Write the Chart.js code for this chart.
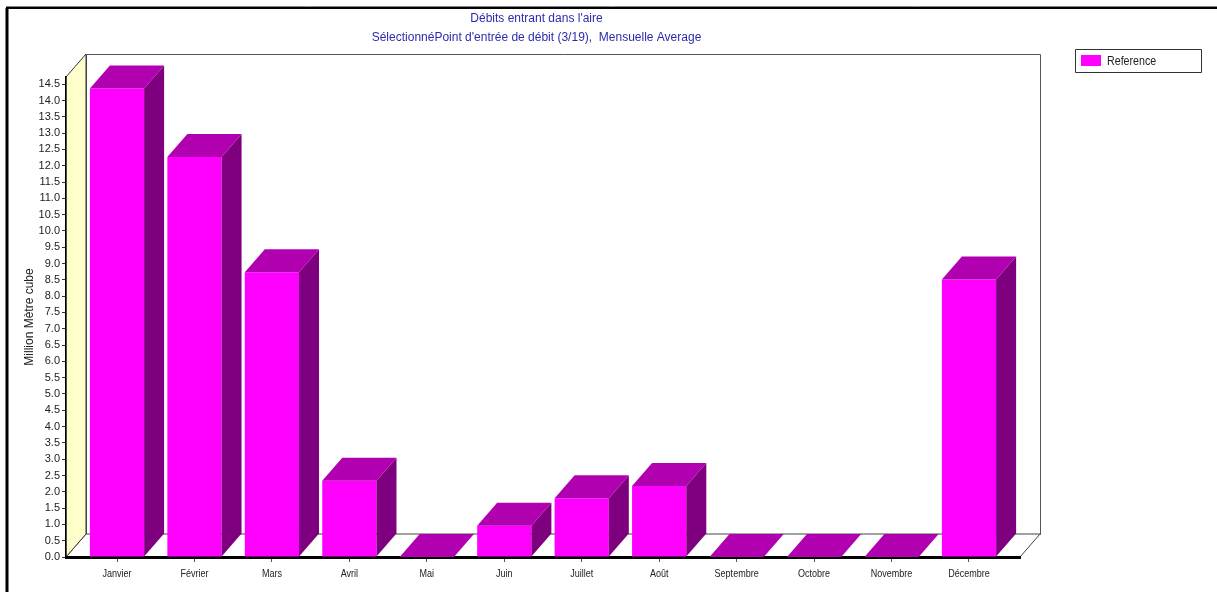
<!DOCTYPE html>
<html>
<head>
<meta charset="utf-8">
<script src="https://cdn.jsdelivr.net/npm/chart.js@4.4.1/dist/chart.umd.min.js"></script>
<style>
  html, body { margin: 0; padding: 0; background: #ffffff; }
  #wrap { width: 1217px; height: 592px; }
</style>
</head>
<body>
<div id="wrap"><canvas id="chart" width="1217" height="592"></canvas></div>
<script>
// Monthly mean inflow, million cubic metres
const months = ['Janvier', 'Février', 'Mars', 'Avril', 'Mai', 'Juin', 'Juillet', 'Août', 'Septembre', 'Octobre', 'Novembre', 'Décembre'];
const referenceValues = [14.37, 12.27, 8.73, 2.34, 0, 0.96, 1.80, 2.18, 0, 0, 0, 8.51];
const yTickValues = [0, 0.5, 1, 1.5, 2, 2.5, 3, 3.5, 4, 4.5, 5, 5.5, 6, 6.5, 7, 7.5, 8, 8.5, 9, 9.5, 10, 10.5, 11, 11.5, 12, 12.5, 13, 13.5, 14, 14.5];
const titleLines = ["Débits entrant dans l'aire", "SélectionnéPoint d'entrée de débit (3/19),  Mensuelle Average"];
const yAxisTitle = 'Million Mètre cube';
const seriesName = 'Reference';

const FONT = "'Liberation Sans', Arial, sans-serif";
const DEPTH_X = 20;   // depth offset of the 3D box
const DEPTH_Y = 23;
const CONDENSE = 0.82; // horizontal squeeze for the narrow label face
const COLORS = {
  front: '#FF00FF',
  top: '#B000B0',
  side: '#7E007E',
  wall: '#FFFFCC',
  title: '#2B2BB0',
  text: '#222222'
};

// draws text squeezed horizontally around its anchor
function condensedText(ctx, text, x, y, align) {
  ctx.save();
  ctx.translate(x, y);
  ctx.scale(CONDENSE, 1);
  ctx.textAlign = align;
  ctx.fillText(text, 0, 0);
  ctx.restore();
}

// Back wall, left wall and floor of the 3D box, plus the outer frame
const boxPlugin = {
  id: 'box3d',
  beforeDraw(chart) {
    const { ctx, chartArea: a } = chart;
    const dx = DEPTH_X, dy = DEPTH_Y;
    ctx.save();
    // outer frame
    ctx.strokeStyle = '#888888';
    ctx.lineWidth = 1;
    ctx.beginPath(); ctx.moveTo(6, 6.5); ctx.lineTo(1217, 6.5); ctx.stroke();
    ctx.strokeStyle = '#000000';
    ctx.lineWidth = 2;
    ctx.beginPath(); ctx.moveTo(7, 600); ctx.lineTo(7, 8); ctx.lineTo(1217, 8); ctx.stroke();
    ctx.lineWidth = 3;
    ctx.beginPath(); ctx.moveTo(7, 8); ctx.lineTo(7, 600); ctx.stroke();

    // back plane
    ctx.lineWidth = 1;
    ctx.fillStyle = '#ffffff';
    ctx.strokeStyle = '#555555';
    ctx.beginPath();
    ctx.rect(a.left + dx + 0.5, a.top - dy + 0.5, a.right - a.left, a.bottom - a.top);
    ctx.fill(); ctx.stroke();

    // floor
    ctx.beginPath();
    ctx.moveTo(a.left, a.bottom);
    ctx.lineTo(a.right, a.bottom);
    ctx.lineTo(a.right + dx, a.bottom - dy);
    ctx.lineTo(a.left + dx, a.bottom - dy);
    ctx.closePath();
    ctx.fillStyle = '#ffffff';
    ctx.fill();
    ctx.strokeStyle = '#444444';
    ctx.stroke();

    // left wall
    ctx.beginPath();
    ctx.moveTo(a.left, a.bottom);
    ctx.lineTo(a.left, a.top);
    ctx.lineTo(a.left + dx, a.top - dy);
    ctx.lineTo(a.left + dx, a.bottom - dy);
    ctx.closePath();
    ctx.fillStyle = COLORS.wall;
    ctx.fill();
    ctx.strokeStyle = '#333333';
    ctx.stroke();
    ctx.restore();
  },
  // top and side faces of every bar, from the bar elements laid out by the scales
  afterDatasetsDraw(chart) {
    const { ctx } = chart;
    const dx = DEPTH_X, dy = DEPTH_Y;
    ctx.save();
    chart.getDatasetMeta(0).data.forEach(el => {
      const { x, y, base, width } = el.getProps(['x', 'y', 'base', 'width'], true);
      const xl = x - width / 2, xr = x + width / 2;
      ctx.fillStyle = COLORS.side;
      ctx.beginPath();
      ctx.moveTo(xr, y);
      ctx.lineTo(xr + dx, y - dy);
      ctx.lineTo(xr + dx, base - dy);
      ctx.lineTo(xr, base);
      ctx.closePath();
      ctx.fill();
      ctx.fillStyle = COLORS.top;
      ctx.beginPath();
      ctx.moveTo(xl, y);
      ctx.lineTo(xr, y);
      ctx.lineTo(xr + dx, y - dy);
      ctx.lineTo(xl + dx, y - dy);
      ctx.closePath();
      ctx.fill();
    });
    ctx.restore();
  },
  // month labels under the x ticks, title block and boxed legend
  afterDraw(chart) {
    const { ctx } = chart;
    const xScale = chart.scales.x;
    ctx.save();
    ctx.fillStyle = COLORS.text;
    ctx.font = '11px ' + FONT;
    ctx.textBaseline = 'middle';
    xScale.ticks.forEach((t, i) => {
      condensedText(ctx, months[Math.round(t.value)], xScale.getPixelForTick(i), 574, 'center');
    });

    ctx.fillStyle = COLORS.title;
    ctx.font = '12px ' + FONT;
    ctx.textAlign = 'center';
    ctx.fillText(titleLines[0], 536.5, 19);
    ctx.fillText(titleLines[1], 536.5, 38);

    ctx.fillStyle = '#ffffff';
    ctx.strokeStyle = '#333333';
    ctx.lineWidth = 1;
    ctx.beginPath();
    ctx.rect(1075.5, 49.5, 126, 23);
    ctx.fill(); ctx.stroke();
    ctx.fillStyle = COLORS.front;
    ctx.fillRect(1081, 55, 20, 11);
    ctx.fillStyle = COLORS.text;
    ctx.font = '13px ' + FONT;
    condensedText(ctx, seriesName, 1107, 61, 'left');
    ctx.restore();
  }
};

new Chart(document.getElementById('chart'), {
  type: 'bar',
  data: {
    datasets: [{
      label: seriesName,
      data: months.map((m, i) => ({ x: i, y: referenceValues[i] })),
      backgroundColor: COLORS.front,
      borderWidth: 0,
      barPercentage: 0.7,
      categoryPercentage: 1
    }]
  },
  options: {
    responsive: false,
    devicePixelRatio: 1,
    animation: false,
    layout: { padding: { left: 0, top: 77, right: 197, bottom: 0 } },
    plugins: {
      legend: { display: false },
      title: { display: false },
      tooltip: { enabled: false }
    },
    scales: {
      x: {
        type: 'linear',
        offset: false,
        min: -0.6585,
        max: 11.6585,
        afterBuildTicks: s => { s.ticks = months.map((m, i) => ({ value: i })); },
        afterFit: s => { s.height = 35; },
        grid: { offset: false, drawOnChartArea: false, drawTicks: true, tickLength: 5, tickColor: '#555555' },
        border: { display: true, color: '#000000', width: 3 },
        ticks: { display: false }
      },
      y: {
        min: 0,
        max: 14.72,
        afterBuildTicks: s => { s.ticks = yTickValues.map(v => ({ value: v })); },
        afterFit: s => { s.width = 66; },
        grid: { drawOnChartArea: false, drawTicks: true, tickLength: 4, tickColor: '#333333' },
        border: { display: true, color: '#000000', width: 1.5 },
        ticks: {
          callback: v => v.toFixed(1),
          font: { family: FONT, size: 11 },
          color: COLORS.text,
          padding: 2
        },
        title: {
          display: true,
          text: yAxisTitle,
          font: { family: FONT, size: 12 },
          color: COLORS.text,
          padding: { top: 22, bottom: 0 }
        }
      }
    }
  },
  plugins: [boxPlugin]
});
</script>
</body>
</html>
